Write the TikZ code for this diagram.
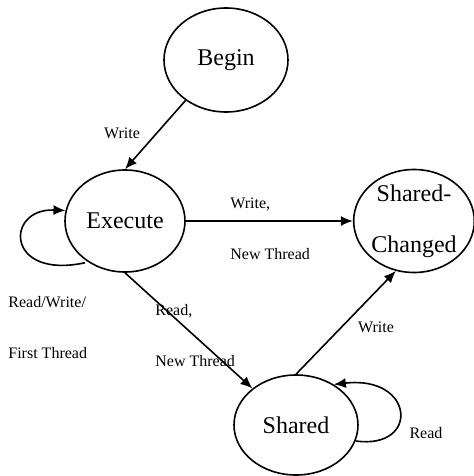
\documentclass[tikz,border=0pt]{standalone}
\usepackage{fontspec}
\setmainfont{Liberation Serif}
\usetikzlibrary{arrows.meta,shapes.geometric}
\tikzset{
    state/.style={ellipse,draw,line width=0.8pt,inner sep=0pt,font=\fontsize{12}{14}\selectfont},
    lbl/.style={inner sep=0pt,font=\fontsize{8}{10}\selectfont},
    lbltwo/.style={inner sep=0pt,align=left,anchor=west,font=\fontsize{8}{25.5}\selectfont},
    arrow/.style={-{Latex[length=6pt,width=5pt]},line width=0.8pt}
}
\begin{document}
\begin{tikzpicture}[x=0.5pt,y=-0.5pt]
    \useasboundingbox (0,0) rectangle (473,476);
    % states
    \node[state,minimum width=62pt,minimum height=52pt] (beg) at (226,60) {Begin};
    \node[state,minimum width=60pt,minimum height=51pt] (exec) at (125,221) {Execute};
    \node[state,minimum width=59pt,minimum height=50pt,align=center,
          font=\fontsize{12}{25.5}\selectfont] (shc) at (414,221) {Shared-\\Changed};
    \node[state,minimum width=62pt,minimum height=50pt] (shr) at (296,425) {Shared};
    % transitions
    \draw[arrow] (beg.225) -- (exec.north);
    \draw[arrow] (exec.east) -- (shc.west);
    \draw[arrow] (exec.south) -- (shr.140);
    \draw[arrow] (shr.north) -- (shc.250);
    \draw[arrow,shorten <=1.5pt] (exec.228) .. controls (5,280) and (5,208) .. (exec.170);
    \draw[arrow] (shr.-15) .. controls (420,450) and (415,375) .. (shr.47);
    % labels
    \node[lbl] (wbeg) at (122,133) {Write};
    \node[lbltwo] (wnew) at (230,229) {Write,\\New Thread};
    \node[lbltwo] (rnew) at (155,336) {Read,\\New Thread};
    \node[lbltwo] (rwfirst) at (8,328) {Read/Write/\\First Thread};
    \node[lbl] (wshr) at (376,327) {Write};
    \node[lbl] (rshr) at (426,433) {Read};
\end{tikzpicture}
\end{document}
